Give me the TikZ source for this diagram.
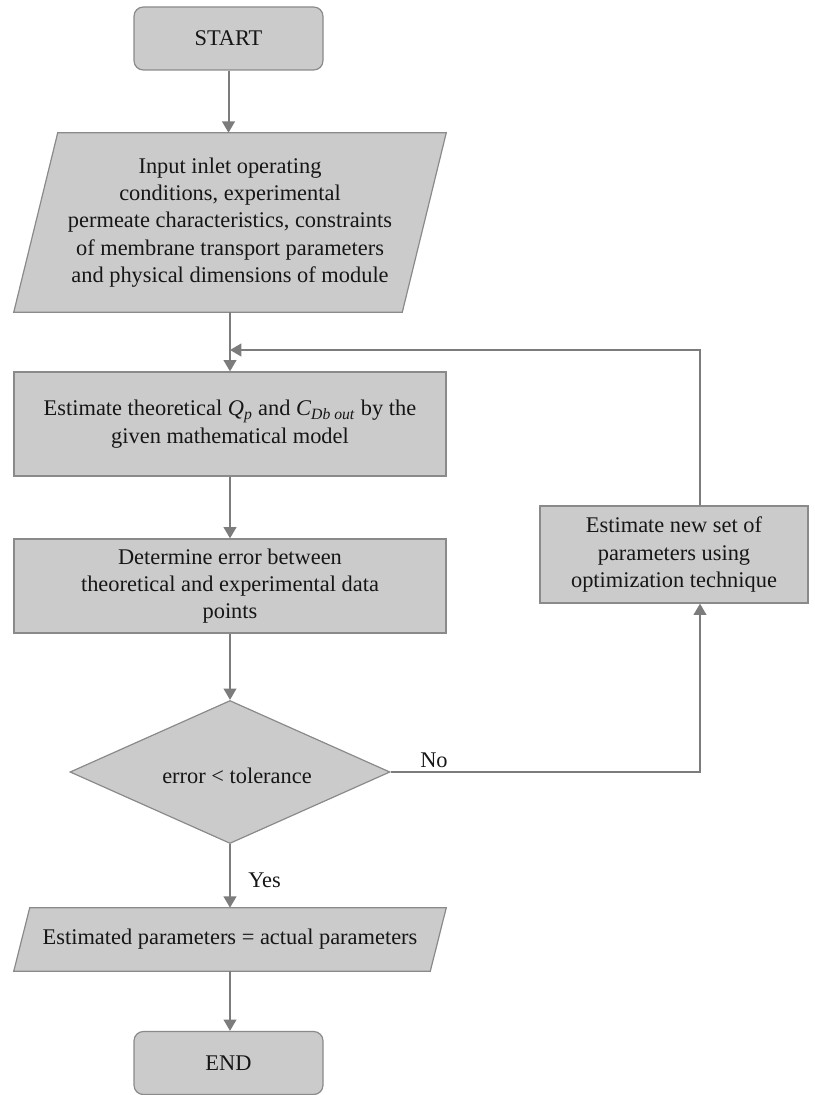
\documentclass[tikz,border=0pt]{standalone}
\usepackage{fontspec}
\setmainfont{Liberation Serif}
\usetikzlibrary{shapes.geometric,arrows.meta}
\pgfdeclarelayer{background}
\pgfsetlayers{background,main}
\definecolor{boxfill}{HTML}{CBCBCB}
\definecolor{boxline}{HTML}{8A8A8A}
\definecolor{flowgray}{HTML}{7C7C7C}
\definecolor{inkgray}{HTML}{161616}

\begin{document}
\begin{tikzpicture}[x=0.75pt,y=-0.75pt,
  every node/.style={font=\fontsize{16.8}{20.5}\selectfont, text=inkgray},
  blockbox/.style={rectangle, draw=boxline, fill=boxfill, line width=0.9pt,
    minimum width=324pt, inner sep=0pt, align=center},
  terminal/.style={blockbox, rounded corners=7pt, minimum width=141.75pt,
    minimum height=47.25pt},
  iobox/.style={rectangle, minimum width=324pt, inner sep=0pt, align=center},
  ioshape/.style={draw=boxline, fill=boxfill, line width=0.9pt},
  decision/.style={diamond, aspect=2.22, draw=boxline, fill=boxfill,
    line width=0.9pt, minimum width=240pt, minimum height=107.25pt,
    inner sep=0pt},
  flow/.style={draw=flowgray, line width=1.5pt,
    -{Triangle[width=9.5pt,length=8.5pt]}},
  tag/.style={inner sep=0pt}
]
\useasboundingbox (0,0) rectangle (814,1095);

% main column
\node[terminal] (start) at (228.5,38.5) {START};

\node[iobox, minimum height=134.25pt] (in) at (230,222.5)
  {Input inlet operating\\conditions, experimental\\permeate characteristics, constraints\\of membrane transport parameters\\and physical dimensions of module};

\node[blockbox, minimum height=78pt] (est) at (230,424)
  {Estimate theoretical \textit{Q}\textsubscript{\textit{p}} and \textit{C}\textsubscript{\textit{Db out}} by the\\given mathematical model};

\node[blockbox, minimum height=70.5pt] (err) at (230,586)
  {Determine error between\\theoretical and experimental data\\points};

\node[decision] (dec) at (230,772) {};
\node (crit) at (237,776) {error < tolerance};

\node[iobox, minimum height=47.25pt] (out) at (230,939.5)
  {Estimated parameters = actual parameters};

\node[terminal] (end) at (228.5,1063) {END};

% side branch
\node[blockbox, minimum width=201pt, minimum height=72.75pt] (upd) at (674,554.5)
  {Estimate new set of\\parameters using\\optimization technique};

% slanted input/output outlines
\begin{pgfonlayer}{background}
  \draw[ioshape] ([xshift=33pt]in.north west) -- (in.north east)
    -- ([xshift=-33pt]in.south east) -- (in.south west) -- cycle;
  \draw[ioshape] ([xshift=12pt]out.north west) -- (out.north east)
    -- ([xshift=-12pt]out.south east) -- (out.south west) -- cycle;
\end{pgfonlayer}

% loop-back points
\coordinate (fb) at (700,350);
\coordinate (merge) at (230,350);

% connectors
\draw[flow] (start.south) -- (start.south |- in.north);
\draw[flow] (in.south) -- (est.north);
\draw[flow] (est.south) -- (err.north);
\draw[flow] (err.south) -- (dec.north);
\draw[flow] (dec.south) -- (out.north);
\draw[flow] (out.south) -- (out.south |- end.north);
\draw[flow] (dec.east) -| (upd.south -| fb);
\draw[flow] (upd.north -| fb) |- (merge);

% branch labels
\node[tag, anchor=south west] (no) at (420,768) {No};
\node[tag, anchor=west] (yes) at (248,880) {Yes};
\end{tikzpicture}
\end{document}
